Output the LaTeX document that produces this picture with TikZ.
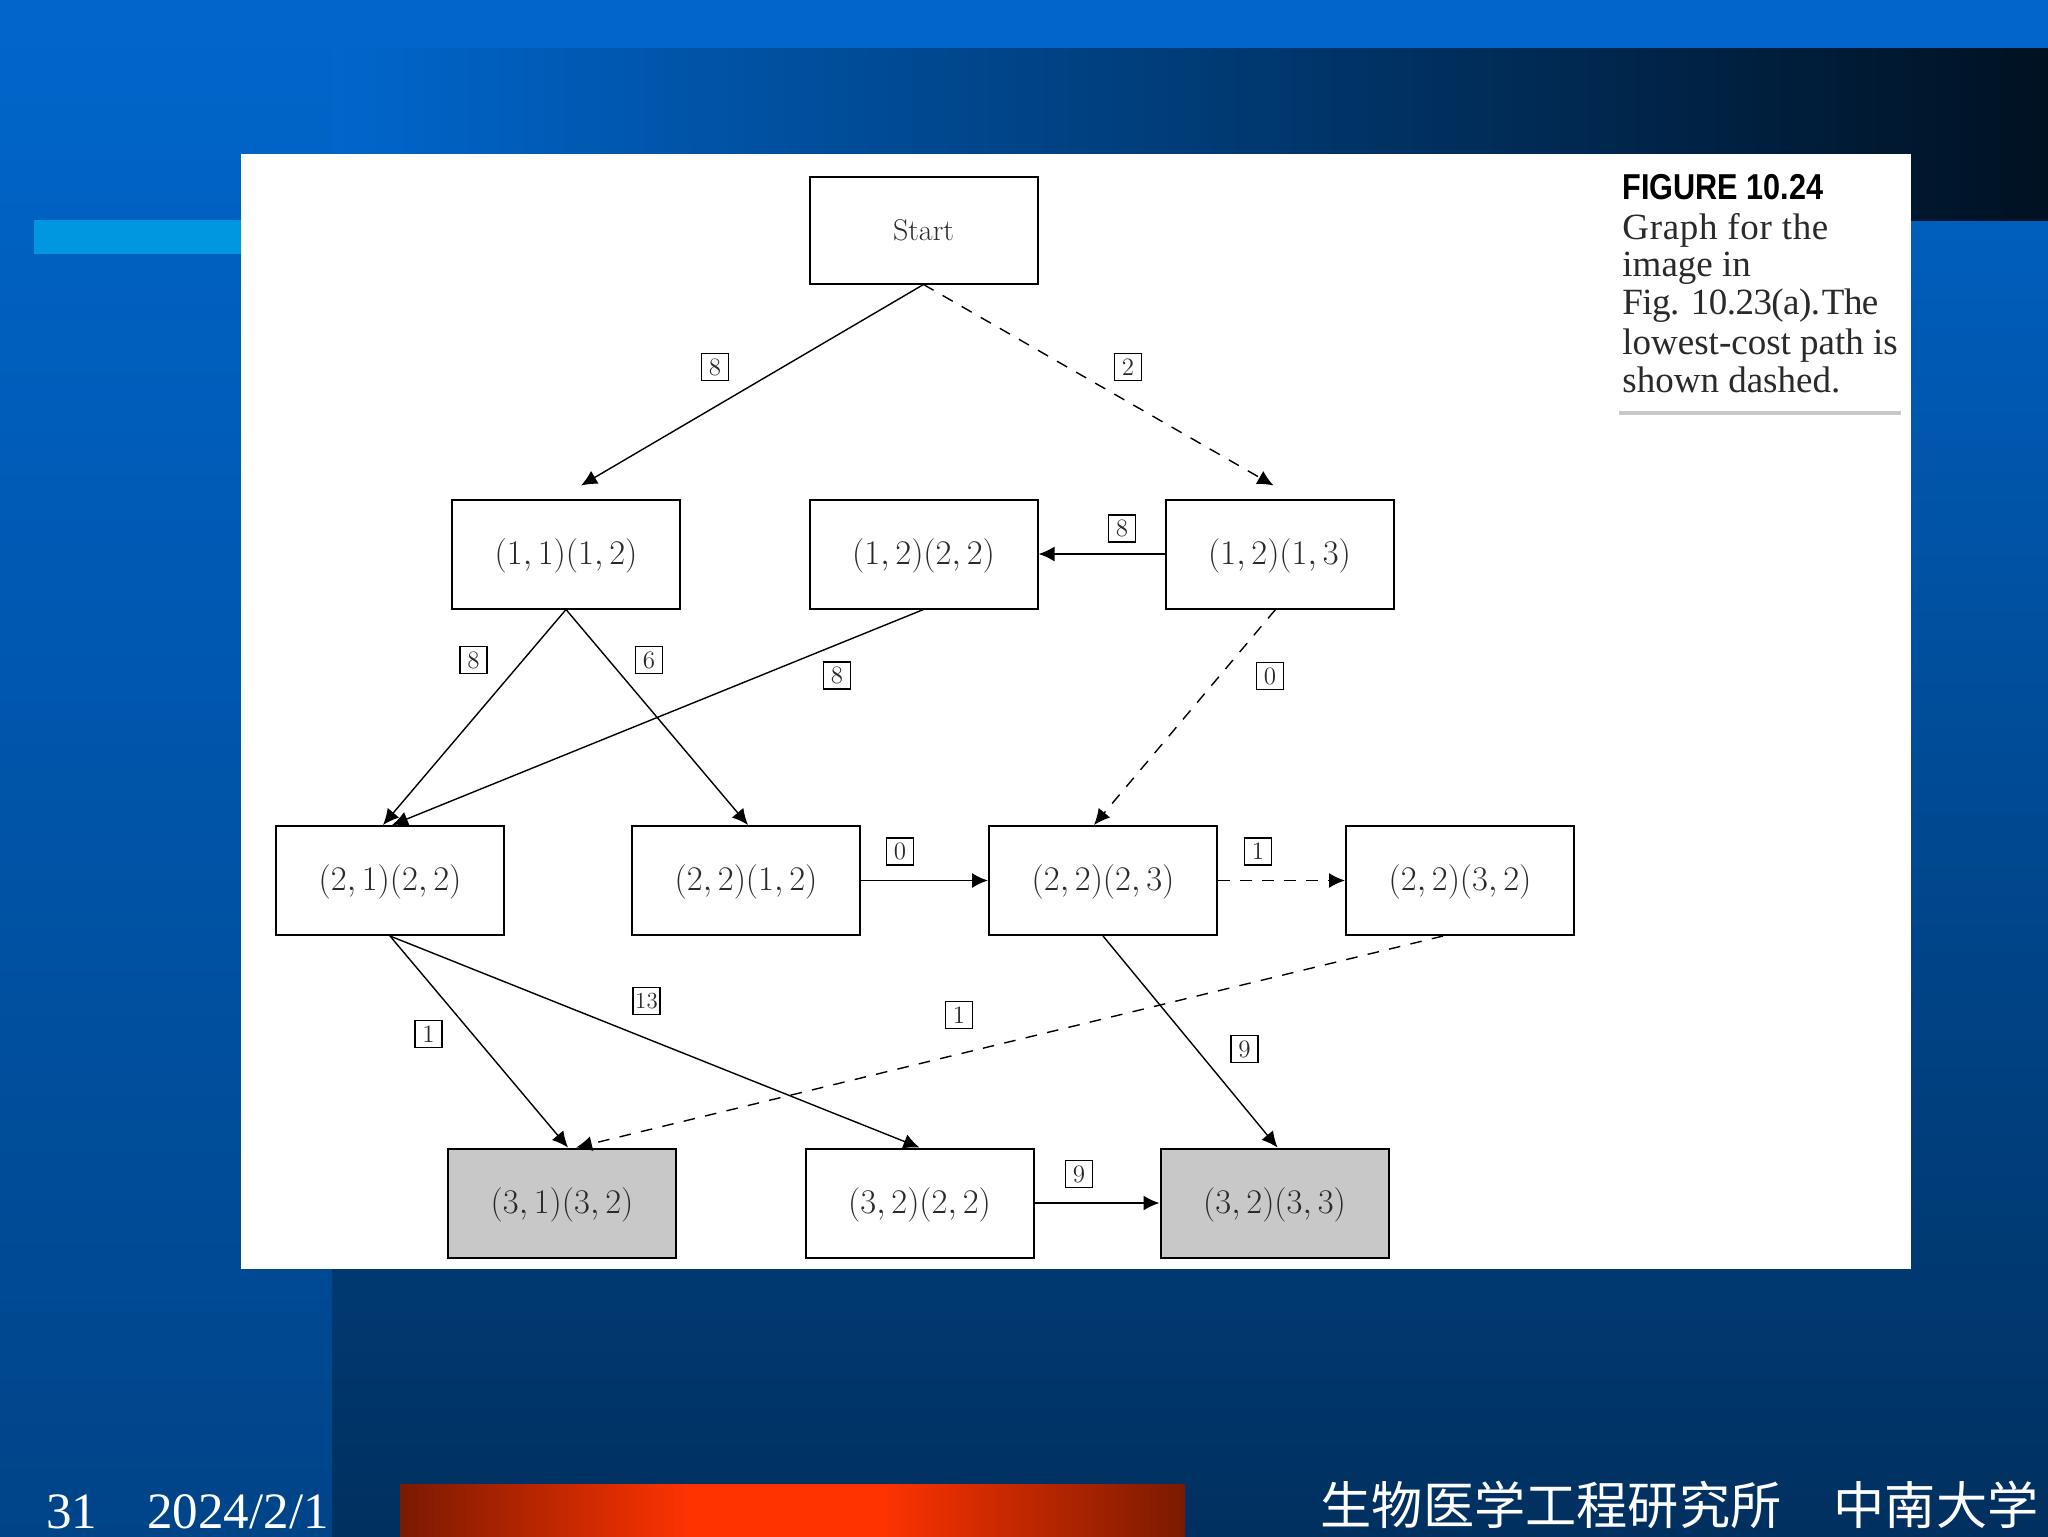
\documentclass[tikz,border=0pt]{standalone}
\usepackage{fontspec}
\usetikzlibrary{arrows.meta}
\newfontfamily\serifcap{Liberation Serif}
\newfontfamily\figfont[FakeStretch=0.85]{Liberation Sans}
\newfontfamily\cjkfont{Noto Sans CJK SC}
\definecolor{topblue}{HTML}{0066CC}
\definecolor{botblue}{HTML}{00305F}
\definecolor{leftbot}{HTML}{004488}
\definecolor{darkend}{HTML}{001122}
\definecolor{barcyan}{HTML}{0096E0}
\definecolor{redmid}{HTML}{FF3300}
\definecolor{redend}{HTML}{7A1A00}
\definecolor{goalgray}{HTML}{C8C8C8}
\definecolor{inkc}{HTML}{2A2A2A}
\newcommand{\pairlab}[1]{\raisebox{-5.1pt}[0pt][0pt]{$#1$}}
\tikzset{
  vertex/.style={draw=black,line width=1pt,fill=white,minimum width=114pt,minimum height=54.5pt,inner sep=0pt,text=inkc,font=\fontsize{16.4}{19}\selectfont},
  goal/.style={vertex,fill=goalgray},
  costlab/.style={draw=black,line width=0.8pt,fill=white,minimum size=13.5pt,inner sep=0pt,text=inkc,font=\fontsize{12.5}{14}\selectfont},
  edge/.style={line width=0.7pt,draw=black,-{Latex[length=8pt,width=7.5pt]}},
  flat/.style={edge,line width=0.85pt},
  path/.style={edge,dash pattern=on 5.8pt off 5.2pt},
  foot/.style={text=white,inner sep=0pt,font=\serifcap\fontsize{25.5}{30}\selectfont},
  zh/.style={text=white,inner sep=0pt,font=\cjkfont\fontsize{25.6}{30}\selectfont},
  capline/.style={anchor=base west,inner sep=0pt,text=inkc,font=\serifcap\fontsize{18.5}{19.25}\selectfont}
}
\begin{document}
\begin{tikzpicture}[x=0.5pt,y=-0.5pt]
\useasboundingbox (0,0) rectangle (2048,1536);
% background
\shade[top color=topblue,bottom color=botblue] (0,0) rectangle (2048,1536);
\shade[top color=topblue,bottom color=leftbot] (0,0) rectangle (332,1536);
\fill[topblue] (0,0) rectangle (2048,49);
\shade[left color=topblue,right color=darkend] (332,49) rectangle (2048,220);
\fill[barcyan] (34,220) rectangle (241,254);
\fill[white] (241,154) rectangle (1911,1269);
\shade[left color=redend,right color=redmid] (400,1484) rectangle (691,1544);
\fill[redmid] (690,1484) rectangle (881,1544);
\shade[left color=redmid,right color=redend] (880,1484) rectangle (1185,1544);
% caption
\node[anchor=base west,inner sep=0pt,text=black,font=\figfont\bfseries\fontsize{18}{21}\selectfont] (figttl) at (1622,199) {FIGURE 10.24};
\node[capline] (capa) at (1622,239) {\addfontfeatures{LetterSpace=1.8}Graph for the};
\node[capline] (capb) at (1622,276) {image in};
\node[capline] (capc) at (1622,314) {\addfontfeatures{LetterSpace=-1.5}Fig. 10.23(a).\hspace{0.05em}The};
\node[capline] (capd) at (1622,354) {lowest-cost path is};
\node[capline] (cape) at (1622,392) {shown dashed.};
\fill[goalgray] (1619,411) rectangle (1901,415);
% nodes
\node[vertex,minimum height=53.5pt,font=\fontsize{15}{17}\selectfont] (start) at (923.5,230) {Start};
\node[vertex] (a) at (566,554) {\pairlab{(1,1)(1,2)}};
\node[vertex] (b) at (923.5,554) {\pairlab{(1,2)(2,2)}};
\node[vertex] (c) at (1279.5,554) {\pairlab{(1,2)(1,3)}};
\node[vertex] (d) at (390,880.5) {\pairlab{(2,1)(2,2)}};
\node[vertex] (e) at (746,880.5) {\pairlab{(2,2)(1,2)}};
\node[vertex] (f) at (1103,880.5) {\pairlab{(2,2)(2,3)}};
\node[vertex] (g) at (1460,880.5) {\pairlab{(2,2)(3,2)}};
\node[goal] (h) at (562,1203) {\pairlab{(3,1)(3,2)}};
\node[vertex] (i) at (919.5,1203) {\pairlab{(3,2)(2,2)}};
\node[goal] (j) at (1274.5,1203) {\pairlab{(3,2)(3,3)}};
% edges
\draw[edge] (start.south) -- ([xshift=7.5pt,yshift=6.5pt]a.north);
\draw[path] (start.south) -- ([xshift=-3pt,yshift=6.5pt]c.north);
\draw[flat] (c.west) -- (b.east);
\draw[edge] (a.south) -- ([xshift=-3.5pt]d.north);
\draw[edge] (a.south) -- ([xshift=1pt]e.north);
\draw[edge] (b.south) -- ([xshift=1pt]d.north);
\draw[path] ([xshift=-2pt]c.south) -- ([xshift=-4.5pt]f.north);
\draw[flat] (e.east) -- (f.west);
\draw[path,line width=0.85pt] (f.east) -- (g.west);
\draw[edge] (d.south) -- ([xshift=3pt]h.north);
\draw[edge] (d.south) -- (i.north);
\draw[path] ([xshift=-8.5pt]g.south) -- ([xshift=7pt]h.north);
\draw[edge] (f.south) -- ([xshift=1.5pt]j.north);
\draw[flat] (i.east) -- (j.west);
% cost labels
\node[costlab] (l1) at (715,367) {8};
\node[costlab] (l2) at (1128,367) {2};
\node[costlab] (l3) at (1122,528.5) {8};
\node[costlab] (l4) at (473.5,660) {8};
\node[costlab] (l5) at (649,660) {6};
\node[costlab] (l6) at (837,675.5) {8};
\node[costlab] (l7) at (1270,676) {0};
\node[costlab] (l8) at (900,851.5) {0};
\node[costlab] (l9) at (1258,851.5) {1};
\node[costlab,font=\fontsize{11.5}{14}\selectfont] (l10) at (646.5,1001) {13};
\node[costlab] (l11) at (428.5,1034) {1};
\node[costlab] (l12) at (959,1015) {1};
\node[costlab] (l13) at (1244.5,1049) {9};
\node[costlab] (l14) at (1079,1174) {9};
% footer
\node[foot,anchor=base west] (num) at (46,1528) {31};
\node[foot,anchor=base west] (date) at (147,1528) {2024/2/1};
\node[zh] (inst) at (1551,1505) {生物医学工程研究所};
\node[zh] (univ) at (1936,1505) {中南大学};
\end{tikzpicture}
\end{document}
